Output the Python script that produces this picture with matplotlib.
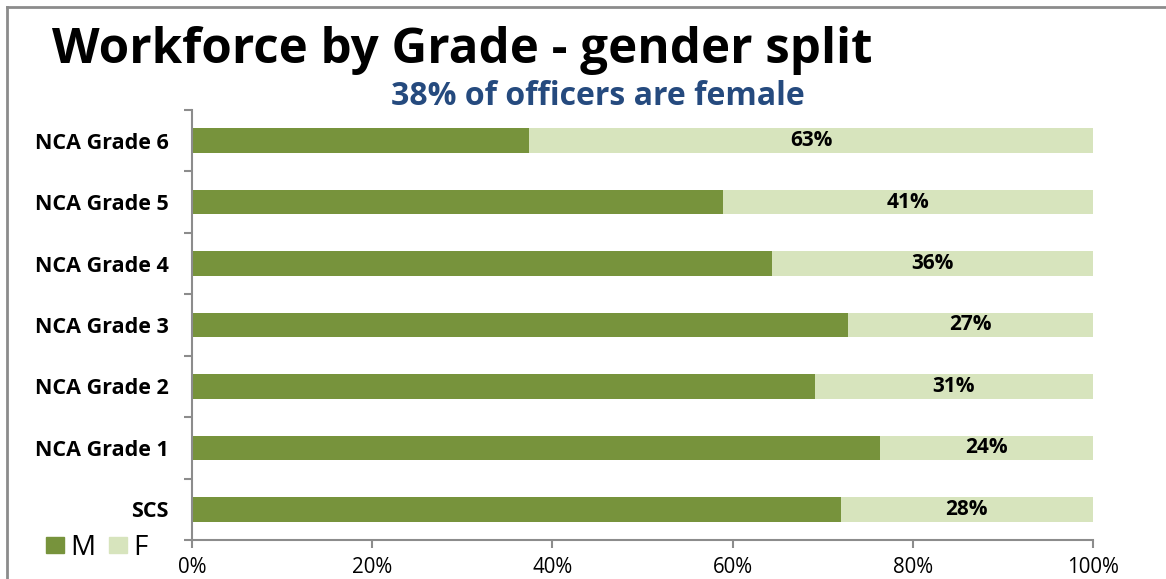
import matplotlib.pyplot as plt
from matplotlib.lines import Line2D
from matplotlib.patches import Patch
import numpy as np

plt.rcParams['font.family'] = ['Open Sans', 'DejaVu Sans']

# data, bottom to top as drawn
grades = ['SCS', 'NCA Grade 1', 'NCA Grade 2', 'NCA Grade 3',
          'NCA Grade 4', 'NCA Grade 5', 'NCA Grade 6']
male = [72.0, 76.4, 69.1, 72.8, 64.4, 58.9, 37.4]
female = [28.0, 23.6, 30.9, 27.2, 35.6, 41.1, 62.6]
female_labels = ['28%', '24%', '31%', '27%', '36%', '41%', '63%']
xticks = [0, 20, 40, 60, 80, 100]

M_COL = '#77933C'
F_COL = '#D7E4BD'
AXIS_COL = '#8C8C8C'

W, H = 1166, 579
fig = plt.figure(figsize=(W / 100, H / 100), dpi=100)
ax = fig.add_axes([192 / W, 1 - 540 / H, (1093 - 192) / W, (540 - 110) / H])

y = np.arange(len(grades))
ax.barh(y, male, height=0.4, color=M_COL, edgecolor='none')
ax.barh(y, female, left=male, height=0.4, color=F_COL, edgecolor='none')

for yi, m, f, lab in zip(y, male, female, female_labels):
    ax.text(m + f / 2, yi, lab, ha='center', va='center',
            fontsize=15, fontweight='bold', color='black')

ax.set_xlim(0, 100)
ax.set_ylim(-0.5, len(grades) - 0.5)
ax.set_xticks(xticks)
ax.set_xticklabels([f'{v}%' for v in xticks], fontsize=14.8)
ax.set_yticks(y)
ax.set_yticklabels(grades, fontsize=15.5, fontweight='bold')
ax.set_yticks(np.arange(-0.5, len(grades)), minor=True)
ax.tick_params(axis='y', which='major', length=0, pad=17)
ax.tick_params(axis='y', which='minor', length=6, color=AXIS_COL, width=1.5)
ax.tick_params(axis='x', length=6, color=AXIS_COL, width=1.5, pad=6)

for s in ['top', 'right']:
    ax.spines[s].set_visible(False)
for s in ['left', 'bottom']:
    ax.spines[s].set_color(AXIS_COL)
    ax.spines[s].set_linewidth(1.5)

fig.text(52 / W, 1 - 63 / H, 'Workforce by Grade - gender split',
         ha='left', va='baseline', fontsize=35.5, fontweight='bold', color='black')
fig.text(598 / W, 1 - 105 / H, '38% of officers are female',
         ha='center', va='baseline', fontsize=23, fontweight='bold', color='#254A7E')

handles = [Patch(color=M_COL), Patch(color=F_COL)]
fig.legend(handles, ['M', 'F'], loc='center left',
           bbox_to_anchor=(32 / W, 1 - 548 / H), ncol=2, frameon=False,
           borderpad=0, fontsize=20, handlelength=0.65, handleheight=0.54,
           handletextpad=0.22, columnspacing=0.5)

# outer frame (top and left edges only)
fig.add_artist(Line2D([7 / W, 1], [1 - 7 / H, 1 - 7 / H], color=AXIS_COL, lw=2))
fig.add_artist(Line2D([7 / W, 7 / W], [0, 1 - 7 / H], color=AXIS_COL, lw=2))

fig.savefig('out.png', dpi=100)
